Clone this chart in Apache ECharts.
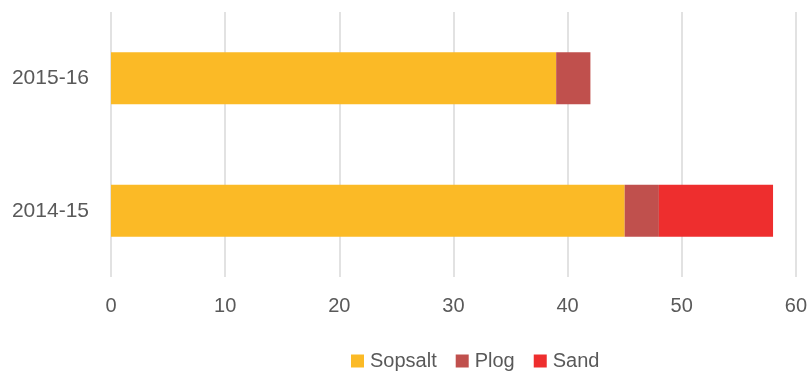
<!DOCTYPE html>
<html>
<head>
<meta charset="utf-8">
<script src="https://cdn.jsdelivr.net/npm/echarts@6/dist/echarts.min.js"></script>
<style>html,body{margin:0;padding:0;background:#fff;}#c{width:810px;height:372px;}</style>
</head>
<body>
<div id="c"></div>
<script>
const categories = ['2014-15', '2015-16'];
const sopsalt = [45, 39];
const plog = [3, 3];
const sand = [10, 0];
const seriesNames = ['Sopsalt', 'Plog', 'Sand'];
const colors = ['#FBBA26', '#C0504D', '#EE2E2E'];

const chart = echarts.init(document.getElementById('c'), null, {renderer: 'canvas'});
const font = 'Liberation Sans, Arial, sans-serif';
chart.setOption({
  animation: false,
  textStyle: {fontFamily: font},
  grid: {left: 111, right: 13, top: 12, bottom: 95, containLabel: false},
  legend: {
    data: seriesNames,
    left: 346,
    top: 346,
    itemWidth: 13,
    itemHeight: 13,
    itemGap: 19,
    icon: 'rect',
    textStyle: {fontSize: 20, color: '#595959', fontFamily: font, padding: [0, 0, 0, 1]}
  },
  xAxis: {
    type: 'value',
    min: 0, max: 60, interval: 10,
    axisLine: {show: false},
    axisTick: {show: false},
    splitLine: {show: true, lineStyle: {color: '#D9D9D9', width: 1.5}},
    axisLabel: {fontSize: 20, color: '#595959', margin: 19, fontFamily: font}
  },
  yAxis: {
    type: 'category',
    data: categories,
    axisLine: {show: false},
    axisTick: {show: false},
    axisLabel: {fontSize: 21, color: '#595959', margin: 22, fontFamily: font}
  },
  series: [
    {name: seriesNames[0], type: 'bar', stack: 'a', data: sopsalt, barWidth: 52, itemStyle: {color: colors[0]}},
    {name: seriesNames[1], type: 'bar', stack: 'a', data: plog, barWidth: 52, itemStyle: {color: colors[1]}},
    {name: seriesNames[2], type: 'bar', stack: 'a', data: sand, barWidth: 52, itemStyle: {color: colors[2]}}
  ]
});
</script>
</body>
</html>
